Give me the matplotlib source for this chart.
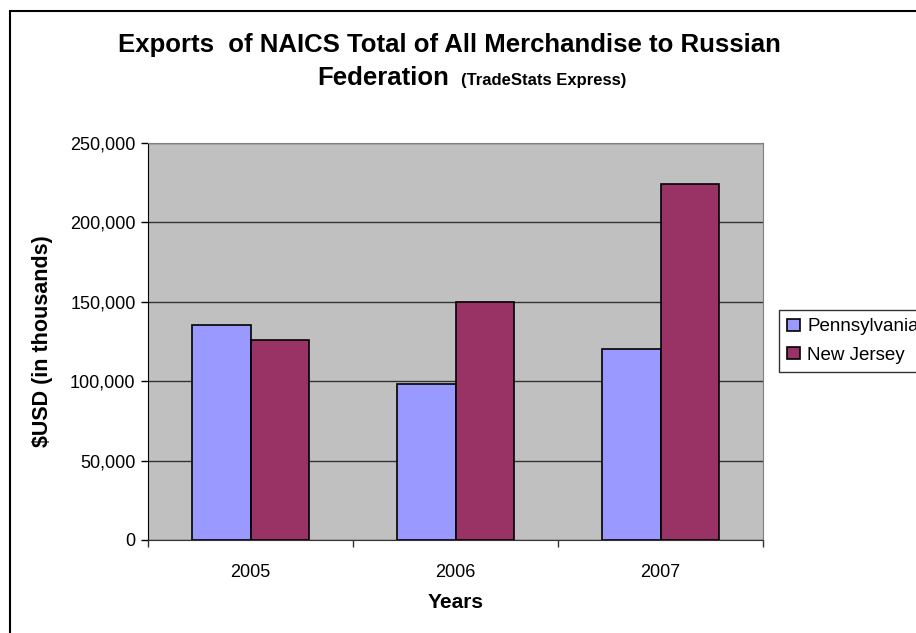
import numpy as np
import matplotlib.pyplot as plt
from matplotlib.patches import Rectangle
from matplotlib.ticker import FuncFormatter, FixedLocator

plt.rcParams['font.family'] = ['Liberation Sans', 'DejaVu Sans']

years = ['2005', '2006', '2007']
pennsylvania = [135600, 98200, 120300]
new_jersey = [126100, 150100, 224400]

fig = plt.figure(figsize=(9.16, 6.33), dpi=100)
ax = fig.add_axes([148/916, 1-540/633, 615/916, 397/633])

# outer chart border (clipped at right/bottom in the original)
fig.patches.append(Rectangle((10/916, -0.2), 1.2, 1.2-11/633, transform=fig.transFigure,
                             fill=False, edgecolor='black', linewidth=1.5))

x = np.arange(len(years))
w = 0.285
ax.bar(x - w/2, pennsylvania, w, color='#9999FF', edgecolor='black', linewidth=1.2,
       label='Pennsylvania', zorder=3)
ax.bar(x + w/2, new_jersey, w, color='#993366', edgecolor='black', linewidth=1.2,
       label='New Jersey', zorder=3)

ax.set_xlim(-0.5, 2.5)
ax.set_ylim(0, 250000)
ax.set_facecolor('#C0C0C0')
ax.set_yticks(np.arange(0, 250001, 50000))
ax.yaxis.set_major_formatter(FuncFormatter(lambda v, p: f'{int(v):,}'))
ax.yaxis.grid(True, color='#333333', linewidth=1.0, zorder=1)
ax.set_axisbelow(True)

ax.xaxis.set_major_locator(FixedLocator([-0.5, 0.5, 1.5, 2.5]))
ax.xaxis.set_major_formatter(FuncFormatter(lambda v, p: ''))
ax.xaxis.set_minor_locator(FixedLocator(x))
ax.set_xticklabels(years, minor=True)
ax.tick_params(axis='x', which='minor', length=0, pad=17, labelsize=13)
ax.tick_params(axis='x', which='major', length=5, width=1, color='#333333', direction='out')
ax.tick_params(axis='y', length=5, width=1, labelsize=13, pad=4)

for s in ['top', 'right']:
    ax.spines[s].set_color('#808080')
ax.spines['left'].set_color('black')
ax.spines['bottom'].set_color('#333333')

ax.set_ylabel('$USD (in thousands)', fontsize=15.5, fontweight='bold')
ax.set_xlabel('Years', fontsize=15, fontweight='bold')
ax.yaxis.set_label_coords((43-148)/615, 0.5)
ax.xaxis.set_label_coords(0.5, (540-603)/397)
ax.xaxis.label.set_va('center')
ax.yaxis.label.set_va('center')

fig.text(449/916, 1-45/633, 'Exports  of NAICS Total of All Merchandise to Russian',
         ha='center', va='center', fontsize=18.5, fontweight='bold')
fig.text(449/916, 1-78/633, 'Federation', ha='right', va='center', fontsize=18.5,
         fontweight='bold')
fig.text(461/916, 1-80/633, '(TradeStats Express)', ha='left', va='center',
         fontsize=12, fontweight='bold')

leg = fig.legend(loc='upper left', bbox_to_anchor=(779/916, 1-310/633),
                 frameon=True, fancybox=False, edgecolor='black', fontsize=13.5,
                 handlelength=0.65, handleheight=0.65, handletextpad=0.4,
                 borderpad=0.45, labelspacing=0.6, borderaxespad=0)
leg.get_frame().set_linewidth(1.0)

fig.savefig('out.png', dpi=100)
